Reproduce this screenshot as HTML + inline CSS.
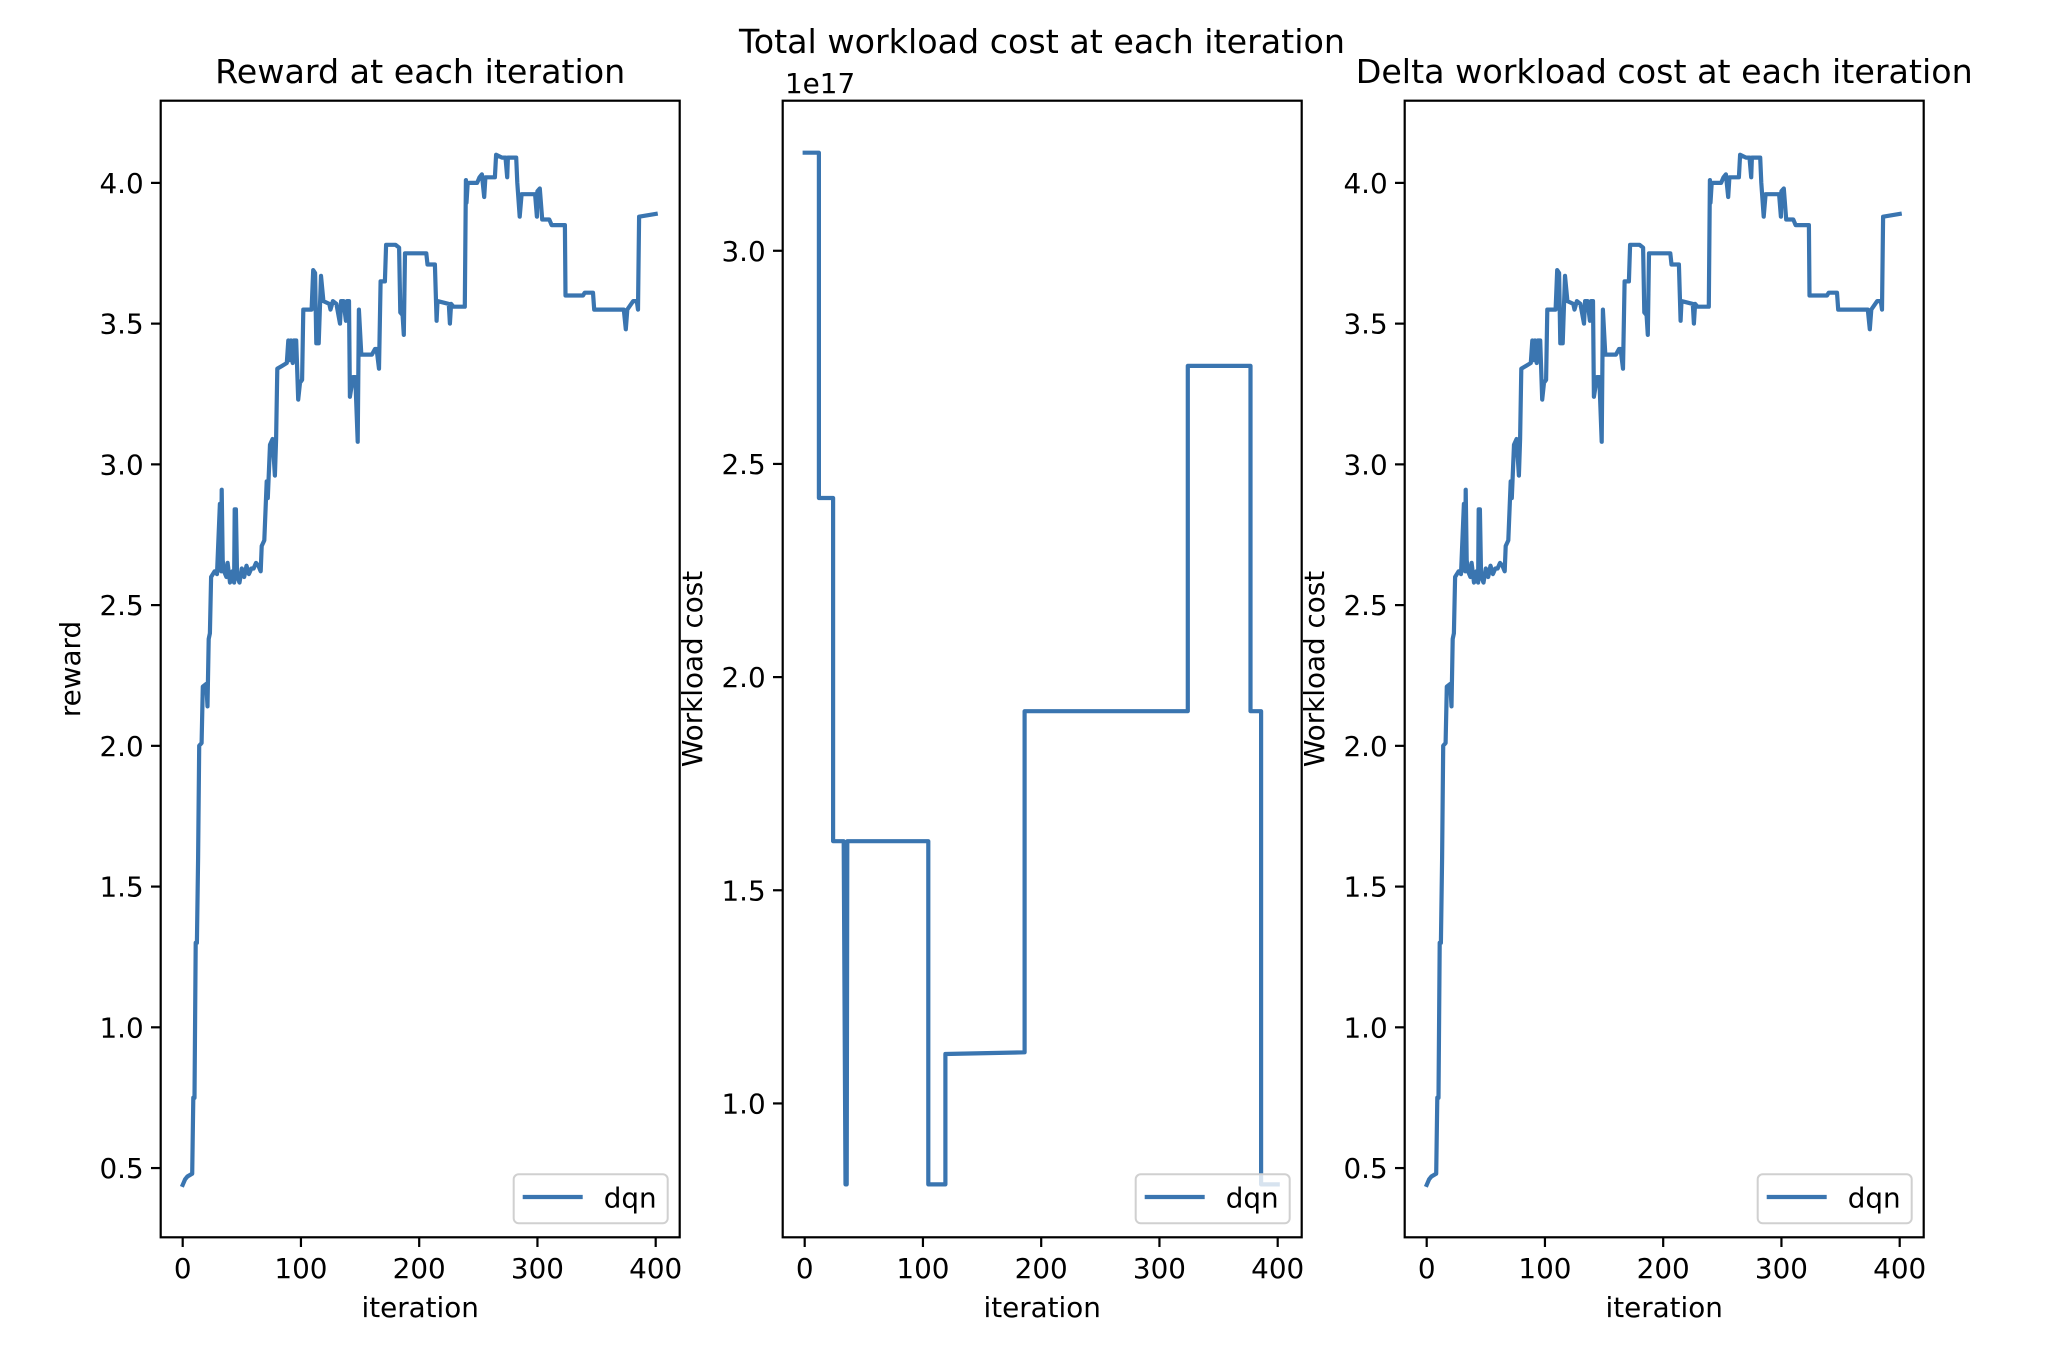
<!DOCTYPE html>
<html><head><meta charset="utf-8"><style>
html,body{margin:0;padding:0;background:#fff;}
svg{display:block;font-family:"DejaVu Sans","Liberation Sans",sans-serif;}
</style></head><body>
<svg id="fig" width="2056" height="1346" viewBox="0 0 2056 1346" xmlns="http://www.w3.org/2000/svg">
<rect width="2056" height="1346" fill="#fff"/>
</svg>
<script>
// ---- data ----
const rewardIter = [0,2,4,8,9,10,11,12,13,14,16,17,20,21,22,23,24,27,29,31.5,32.5,33,33.8,35,37,38,40,42,43.5,44,45,46,48,50,52,54,56,58,60,62,64,66,66.8,69,71,72,73.8,76,78,79,80,84,88,89.3,90.5,91.5,93,94,96,97.7,99.2,101,102,103.4,106,109,110.4,112,113,115,117,119,124,125,127,130,133,134,136,138,139,140.6,141.4,144,146,148,149,151,160,162.6,164,166,167.4,171,172,180,183,184,186,187,188,196,200,206,207,213.3,214.7,215.5,225,226,227,229,234,238.6,239.5,240,241,243,249,251,253,255,256,258,264,265,270,273,274.4,275,282,283,285,286.6,298,299.5,300,302,304,304.8,310,312,323.2,323.7,338.5,340,347,348,373,374.7,376,381,384,385,386,400];
const rewardVal  = [0.44,0.46,0.47,0.48,0.75,0.75,1.3,1.3,1.6,2.0,2.01,2.21,2.22,2.14,2.38,2.40,2.60,2.62,2.61,2.86,2.62,2.91,2.66,2.62,2.60,2.65,2.58,2.62,2.58,2.84,2.84,2.60,2.58,2.63,2.60,2.64,2.61,2.63,2.63,2.65,2.64,2.62,2.71,2.73,2.94,2.88,3.07,3.09,2.96,3.09,3.34,3.35,3.36,3.44,3.37,3.44,3.36,3.44,3.44,3.23,3.29,3.30,3.55,3.55,3.55,3.55,3.69,3.68,3.43,3.43,3.67,3.58,3.57,3.55,3.58,3.57,3.50,3.58,3.58,3.51,3.58,3.58,3.24,3.31,3.31,3.08,3.55,3.39,3.39,3.41,3.41,3.34,3.65,3.65,3.78,3.78,3.77,3.54,3.53,3.46,3.75,3.75,3.75,3.75,3.71,3.71,3.51,3.58,3.57,3.50,3.57,3.56,3.56,3.56,4.01,3.93,4.0,4.0,4.0,4.02,4.03,3.95,4.02,4.02,4.02,4.10,4.09,4.09,4.02,4.09,4.09,4.0,3.88,3.96,3.96,3.88,3.97,3.98,3.87,3.87,3.87,3.85,3.85,3.60,3.60,3.61,3.61,3.55,3.55,3.48,3.55,3.58,3.58,3.55,3.88,3.89];
const costIter = [0,12,12,24,24,33,34.5,35.5,36,104.5,104.5,119,119,186,186,324,324,377,377,386,386,400];
const costVal  = [3.23,3.23,2.42,2.42,1.615,1.615,0.81,0.81,1.615,1.615,0.81,0.81,1.116,1.12,1.92,1.92,2.73,2.73,1.92,1.92,0.81,0.81];
const xTicks = [0,100,200,300,400];
const rewardTicks = [0.5,1.0,1.5,2.0,2.5,3.0,3.5,4.0];
const costTicks = [1.0,1.5,2.0,2.5,3.0];

const NS='http://www.w3.org/2000/svg';
const svg=document.getElementById('fig');
function mk(tag,attrs,parent){const e=document.createElementNS(NS,tag);for(const k in attrs)e.setAttribute(k,attrs[k]);(parent||svg).appendChild(e);return e;}
const TOP=100.7,BOT=1237.3,W=519,XMIN=-18.6,XMAX=420.3;
const COLOR='#3a75b0';

function panel(left,ymin,ymax,yt,xs,ys,title,ylabel,name){
  const g=mk('g',{});
  
  
  const sx=v=>left+(v-XMIN)/(XMAX-XMIN)*W;
  const sy=v=>BOT-(v-ymin)/(ymax-ymin)*(BOT-TOP);
  // series
  const pts=xs.map((x,i)=>sx(x).toFixed(1)+','+sy(ys[i]).toFixed(1)).join(' ');
  const line=mk('polyline',{points:pts,fill:'none',stroke:COLOR,'stroke-width':4.2,'stroke-linejoin':'round','stroke-linecap':'square'},g);
  
  
  // frame
  const fr=mk('rect',{x:left,y:TOP,width:W,height:BOT-TOP,fill:'none',stroke:'#000','stroke-width':2.2},g);
  
  
  // x ticks
  xTicks.forEach(t=>{
    const x=sx(t);
    mk('line',{x1:x,x2:x,y1:BOT,y2:BOT+9.7,stroke:'#000','stroke-width':2.2},g);
    const tx=mk('text',{x:x,y:1278,'font-size':27.8,'text-anchor':'middle',fill:'#000'},g);
    tx.textContent=String(t);
    
    
  });
  yt.forEach(t=>{
    const y=sy(t);
    mk('line',{x1:left-9.7,x2:left,y1:y,y2:y,stroke:'#000','stroke-width':2.2},g);
    const tx=mk('text',{x:left-17,y:y+10,'font-size':27.8,'text-anchor':'end',fill:'#000'},g);
    tx.textContent=t.toFixed(1);
    
    
  });
  const xl=mk('text',{x:left+W/2,y:1317,'font-size':27.8,'text-anchor':'middle',fill:'#000'},g);
  xl.textContent='iteration';
  
  
  const cx=left-90,cy=(TOP+BOT)/2;
  const yl=mk('text',{x:cx,y:cy,'font-size':27.8,'text-anchor':'middle','dominant-baseline':'central',fill:'#000',transform:`rotate(-90 ${cx} ${cy})`},g);
  yl.textContent=ylabel;
  
  
  if(title){
    const tt=mk('text',{x:left+W/2,y:83,'font-size':33.3,'text-anchor':'middle',fill:'#000'},g);
    tt.textContent=title;
    
    
  }
  // legend
  const lg=mk('g',{},g);
  
  
  const bx=left+W-12-154,by=BOT-14-49;
  mk('rect',{x:bx,y:by,width:154,height:49,rx:5,fill:'rgba(255,255,255,0.8)',stroke:'#d0d0d0','stroke-width':2},lg);
  mk('line',{x1:bx+9,x2:bx+69,y1:by+22.7,y2:by+22.7,stroke:COLOR,'stroke-width':4.2},lg);
  const lt=mk('text',{x:bx+90,y:by+33,'font-size':27.8,fill:'#000'},lg);
  lt.textContent='dqn';
  
  
}
panel(160.7,0.254,4.292,rewardTicks,rewardIter,rewardVal,'Reward at each iteration','reward','reward-panel');
panel(782.7,0.686,3.352,costTicks,costIter,costVal,null,'Workload cost','total-cost-panel');
panel(1404.7,0.254,4.292,rewardTicks,rewardIter,rewardVal,'Delta workload cost at each iteration','Workload cost','delta-cost-panel');
const t2=mk('text',{x:1042,y:53,'font-size':33.3,'text-anchor':'middle',fill:'#000'});
t2.textContent='Total workload cost at each iteration';


const off=mk('text',{x:785,y:93,'font-size':27.8,fill:'#000'});
off.textContent='1e17';


</script>
</body></html>
